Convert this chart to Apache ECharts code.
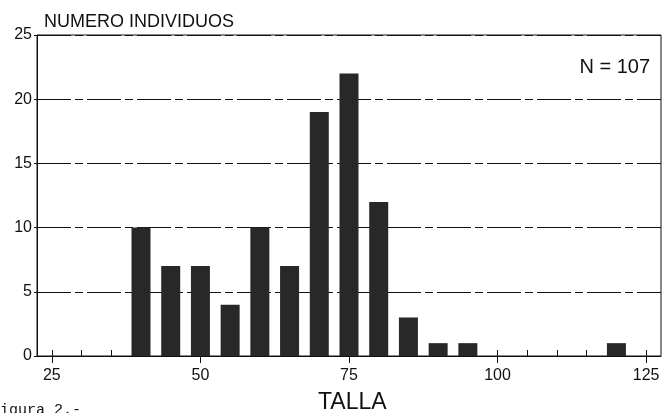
<!DOCTYPE html>
<html>
    <head>
        <meta charset="utf-8">
        <script src="https://cdn.jsdelivr.net/npm/echarts@6/dist/echarts.min.js"></script>
        <style>
            html, body { margin: 0; padding: 0; background: #fff; }
        </style>
    </head>
    <body>
        <div id="main" style="width: 664px; height: 413px"></div>

        <script type="text/javascript">
            // talla (size class centre) and number of individuals
            const tallas = [40, 45, 50, 55, 60, 65, 70, 75, 80, 85, 90, 95, 120];
            const individuos = [10, 7, 7, 4, 10, 7, 19, 22, 12, 3, 1, 1, 1];
            const xLabels = [25, 50, 75, 100, 125];
            const xMinor = [25, 30, 35, 40, 45, 50, 55, 60, 65, 70, 75, 80, 85, 90, 95, 100, 105, 110, 115, 120, 125];

            const font = 'Liberation Sans, Arial, sans-serif';

            const barData = [];
            for (let i = 0; i < tallas.length; i++) {
                barData.push([tallas[i], individuos[i]]);
            }

            var chartDom = document.getElementById('main');
            var myChart = echarts.init(chartDom);

            var option = {
                backgroundColor: '#fff',
                animation: false,
                title: {
                    text: 'NUMERO INDIVIDUOS',
                    left: 39,
                    top: 8,
                    textStyle: { fontFamily: font, fontSize: 18, fontWeight: 'normal', color: '#111' }
                },
                grid: {
                    left: 37, right: 3, top: 35, bottom: 57,
                    show: true, borderColor: '#111', borderWidth: 1
                },
                xAxis: [{
                    type: 'value',
                    min: 22.5,
                    max: 127.5,
                    axisLine: { lineStyle: { color: '#111', width: 1 } },
                    axisTick: { customValues: xLabels, length: 7, lineStyle: { color: '#111' } },
                    axisLabel: { customValues: xLabels, margin: 12, fontFamily: font, fontSize: 16, color: '#111' },
                    splitLine: { show: false }
                }, {
                    type: 'value',
                    min: 22.5,
                    max: 127.5,
                    position: 'bottom',
                    axisLine: { show: false },
                    axisTick: { customValues: xMinor, inside: true, length: 6, lineStyle: { color: '#111' } },
                    axisLabel: { show: false },
                    splitLine: { show: false }
                }],
                yAxis: {
                    type: 'value',
                    min: 0,
                    max: 25,
                    interval: 5,
                    axisLine: { show: true, lineStyle: { color: '#111', width: 1 } },
                    axisTick: { show: true, length: 3, lineStyle: { color: '#111' } },
                    axisLabel: { margin: 5, fontFamily: font, fontSize: 16, color: '#111' },
                    splitLine: { lineStyle: { color: '#111', width: 1, type: [34, 4, 8, 4] } }
                },
                graphic: [{
                    type: 'text',
                    right: 14,
                    top: 57,
                    style: { text: 'N = 107', font: '20px ' + font, fill: '#111' }
                }, {
                    type: 'text',
                    left: 318,
                    top: 391,
                    style: { text: 'TALLA', font: '23px ' + font, fill: '#111' }
                }, {
                    type: 'text',
                    left: -9,
                    top: 403,
                    style: { text: 'Figura 2.-', font: '15px Liberation Mono, monospace', fill: '#111' }
                }],
                series: [{
                    type: 'bar',
                    data: barData,
                    barWidth: 19,
                    itemStyle: { color: '#282828' }
                }]
            };

            option && myChart.setOption(option);
        </script>
    </body>
</html>
